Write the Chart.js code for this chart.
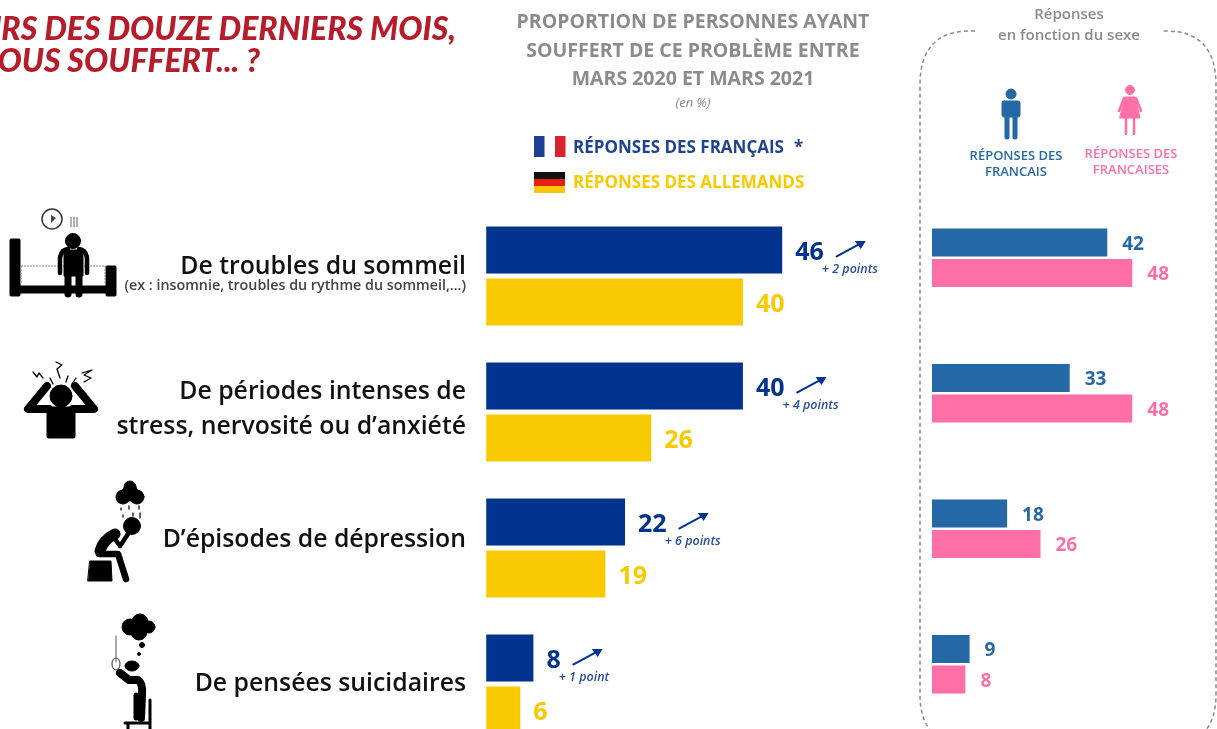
<!DOCTYPE html>
<html lang="fr">
<head>
<meta charset="utf-8">
<title>Proportion de personnes ayant souffert</title>
<script src="https://cdn.jsdelivr.net/npm/chart.js@4"></script>
<style>
  html, body { margin: 0; padding: 0; background: #fff; overflow: hidden; width: 1217px; height: 729px; }
  #page { position: relative; width: 1217px; height: 729px; overflow: hidden; font-family: "Open Sans", sans-serif; filter: blur(0.55px); }
  #page div { position: absolute; white-space: nowrap; }
  canvas { position: absolute; }
  .right { text-align: right; }
  .center { text-align: center; transform: translateX(-50%); }
  .red { color: #b71c2b; font: italic 900 32px/32px Lato, sans-serif; }
  .title { color: #8b8b8b; font-weight: 700; font-size: 19.5px; line-height: 28.5px; }
  .cat { color: #111; font-weight: 600; font-size: 24.8px; line-height: 35px; right: 751px; text-align: right; }
  .legend { font-weight: 700; font-size: 17px; line-height: 20px; }
  .sex { font-weight: 600; font-size: 13px; line-height: 16px; }
</style>
</head>
<body>
<div id="page">
  <div class="red" style="right:761px;top:12px">AU COURS DES DOUZE DERNIERS MOIS,</div>
  <div class="red" style="right:957px;top:44px">AVEZ-VOUS SOUFFERT... ?</div>

  <div class="title center" style="left:693px;top:7px">PROPORTION DE PERSONNES AYANT<br>SOUFFERT DE CE PROBLÈME ENTRE<br>MARS 2020 ET MARS 2021</div>
  <div class="center" style="left:693px;top:93px;color:#8b8b8b;font-style:italic;font-size:13px">(en %)</div>

  <div class="legend" style="left:573px;top:137px;color:#1f4390">RÉPONSES DES FRANÇAIS</div>
  <div class="legend" style="left:794px;top:137px;color:#1f4390">*</div>
  <div class="legend" style="left:573px;top:172px;color:#f9c900">RÉPONSES DES ALLEMANDS</div>

  <div class="center" style="left:1069px;top:3px;color:#8b8b8b;font-weight:600;font-size:15px;line-height:21px">Réponses<br>en fonction du sexe</div>
  <div class="sex center" style="left:1016px;top:147px;color:#2469a6">RÉPONSES DES<br>FRANCAIS</div>
  <div class="sex center" style="left:1131px;top:145px;color:#fe6fa8">RÉPONSES DES<br>FRANCAISES</div>

  <div class="cat" style="top:247px">De troubles du sommeil</div>
  <div class="right" style="right:751px;top:276px;color:#444;font-weight:600;font-size:14.3px;line-height:17px">(ex : insomnie, troubles du rythme du sommeil,…)</div>
  <div class="cat" style="top:372px">De périodes intenses de<br>stress, nervosité ou d’anxiété</div>
  <div class="cat" style="top:520px">D’épisodes de dépression</div>
  <div class="cat" style="top:664px">De pensées suicidaires</div>

  <svg width="1217" height="729" style="position:absolute;left:0;top:0">
    <!-- cadre pointille -->
    <path d="M975 31 H970 Q920 31 920 85 V695 Q920 745 970 745 H1166 Q1216 745 1216 695 V85 Q1216 31 1166 31 H1163" fill="none" stroke="#8a8a8a" stroke-width="1.5" stroke-dasharray="4 3"/>
    <!-- drapeaux -->
    <rect x="534" y="136" width="10.5" height="21" fill="#1f3f94"/><rect x="555" y="136" width="10.5" height="21" fill="#d8232f"/>
    <rect x="534" y="172" width="31" height="7" fill="#111"/><rect x="534" y="179" width="31" height="7" fill="#e8210f"/><rect x="534" y="186" width="31" height="7" fill="#fbc60b"/>
    <!-- homme / femme -->
    <g fill="#2469a6" stroke="#2469a6" stroke-linecap="round">
      <circle cx="1011" cy="94" r="5"/><rect x="1002" y="101" width="18" height="16" rx="2"/>
      <path d="M1007 116 V137 M1015 116 V137" stroke-width="5" fill="none"/>
    </g>
    <g fill="#fe6fa8" stroke="#fe6fa8" stroke-linecap="round">
      <circle cx="1130" cy="90" r="4.5"/><path d="M1125 97 H1135 L1140 118 H1120 Z"/>
      <path d="M1124 98 L1119 111 M1136 98 L1141 111 M1126 118 V134 M1134 118 V134" stroke-width="2.5" fill="none"/>
    </g>
    <!-- sommeil -->
    <g fill="#000" stroke="#000">
      <rect x="10" y="239" width="10" height="57" rx="1"/><rect x="106" y="266" width="10" height="30" rx="1"/><rect x="20" y="286" width="86" height="7"/>
      <path d="M21 266 H106 M21 266 V284 M105 266 V284" stroke="#888" stroke-dasharray="2 1" fill="none"/>
      <circle cx="73" cy="241" r="7.5"/>
      <path d="M64 250 H83 V276 H64 Z"/>
      <path d="M60 273 V258 Q61 250 68 249 M87 273 V258 Q86 250 79 249" fill="none" stroke-width="4.5" stroke-linecap="round"/>
      <path d="M68 274 V294 M79 274 V294" fill="none" stroke-width="7" stroke-linecap="round"/>
      <circle cx="52" cy="219" r="10" fill="none" stroke-width="1.5" stroke="#333"/><path d="M51 215 V223 L56 218 Z" stroke="none" fill="#444"/>
      <path d="M71 217 V227 M74 217 V227 M77 217 V227" stroke="#999" stroke-width="1.5" fill="none"/>
    </g>
    <!-- stress -->
    <g fill="#000" stroke="#000" stroke-linecap="round" stroke-linejoin="round">
      <circle cx="61" cy="396" r="11"/>
      <path d="M47 386 L28 409 H49 M75 386 L94 409 H73" fill="none" stroke-width="8"/>
      <path d="M49 409 H73 V436 H49 Z" stroke-width="5"/>
      <path d="M33 372 L37 377 L39 373 L43 378 M56 362 L62 365 L57 369 L60 378 M82 373 L92 370 L84 375 L91 378 L84 382 M50 378 L53 384 M66 382 L68 376 M72 384 L76 378" fill="none" stroke-width="1.3"/>
    </g>
    <!-- depression -->
    <g fill="#000" stroke="#000" stroke-linecap="round" stroke-linejoin="round">
      <circle cx="130" cy="493" r="8"/><circle cx="123" cy="497" r="7"/><circle cx="137" cy="497" r="7"/><circle cx="130" cy="487" r="6"/>
      <path d="M121 508 V510 M129 506 V509 M139 506 V509 M123 515 V517 M133 513 V516 M140 513 V518" fill="none" stroke="#333" stroke-width="1.5"/>
      <circle cx="132" cy="526" r="8.5"/>
      <path d="M115 534 Q103 540 100 551" fill="none" stroke-width="11"/>
      <path d="M99 554 H118 L126 579" fill="none" stroke-width="6.5"/>
      <path d="M112 535 L120 546 L128 534" fill="none" stroke-width="4.5"/>
      <path d="M90 561 H111 L112 581 H88 Z"/>
    </g>
    <!-- suicide -->
    <g fill="#000" stroke="#000" stroke-linecap="round" stroke-linejoin="round">
      <circle cx="130" cy="627" r="8"/><circle cx="140" cy="622" r="8"/><circle cx="149" cy="627" r="6"/><circle cx="139" cy="632" r="8"/>
      <circle cx="142" cy="645" r="2.5"/><circle cx="139" cy="654" r="1.5"/>
      <path d="M116 636 V662" fill="none" stroke="#555" stroke-width="1"/><ellipse cx="116" cy="664" rx="4" ry="6" fill="none" stroke="#555" stroke-width="1.2"/>
      <ellipse cx="132" cy="666" rx="7" ry="5"/>
      <path d="M120 673 L129 680 H138 Q143 683 142 695 L141 718" fill="none" stroke-width="8"/>
      <path d="M136 695 L136 718" fill="none" stroke-width="5"/>
      <path d="M150 700 V729 M125 723 H150 M128 723 V729" fill="none" stroke-width="3"/>
    </g>
  </svg>

  <canvas id="mainChart" width="440" height="544" style="left:481px;top:208px"></canvas>
  <canvas id="sexChart" width="280" height="542" style="left:932px;top:190px"></canvas>
</div>

<script>
var categories = ['Sommeil', 'Stress', 'Dépression', 'Pensées suicidaires'];
var frenchValues = [46, 40, 22, 8];
var germanValues = [40, 26, 19, 6];
var menValues = [42, 33, 18, 9];
var womenValues = [48, 48, 26, 8];
var deltaLabels = ['+ 2 points', '+ 4 points', '+ 6 points', '+ 1 point'];

var NAVY = '#00338d';
var YELLOW = '#f9c900';
var BLUE = '#2469a6';
var PINK = '#fe6fa8';
var FONT = '"Open Sans", sans-serif';

// chiffres au bout des barres
function valueLabels(fontSize, gap, dy) {
  return {
    id: 'valueLabels',
    afterDatasetsDraw: function (chart) {
      var ctx = chart.ctx;
      ctx.save();
      ctx.textBaseline = 'middle';
      ctx.textAlign = 'left';
      ctx.font = '700 ' + fontSize + 'px ' + FONT;
      chart.data.datasets.forEach(function (ds, i) {
        chart.getDatasetMeta(i).data.forEach(function (bar, j) {
          ctx.fillStyle = ds.backgroundColor;
          ctx.fillText(ds.data[j], bar.x + gap, bar.y + dy);
        });
      });
      ctx.restore();
    }
  };
}

// fleche + evolution, seulement pour les Francais
var deltaPlugin = {
  id: 'deltaPlugin',
  afterDatasetsDraw: function (chart) {
    var ctx = chart.ctx;
    ctx.save();
    chart.getDatasetMeta(0).data.forEach(function (bar, j) {
      // la fleche suit la largeur du chiffre
      ctx.font = '700 25px ' + FONT;
      var start = bar.x + 13 + ctx.measureText(frenchValues[j]).width + 12;
      var x1 = start, y1 = bar.y + 7;
      var x2 = start + 30, y2 = bar.y - 9;
      ctx.strokeStyle = NAVY;
      ctx.fillStyle = NAVY;
      ctx.lineWidth = 2;
      ctx.beginPath();
      ctx.moveTo(x1, y1);
      ctx.lineTo(x2 - 6, y2 + 3);
      ctx.stroke();
      ctx.beginPath();
      ctx.moveTo(x2, y2);
      ctx.lineTo(x2 - 11, y2);
      ctx.lineTo(x2 - 5, y2 + 8);
      ctx.closePath();
      ctx.fill();
      ctx.fillStyle = '#2a4f9a';
      ctx.font = 'italic 600 12.5px ' + FONT;
      ctx.textAlign = 'left';
      ctx.textBaseline = 'middle';
      ctx.fillText(deltaLabels[j], start - 14, bar.y + 19);
    });
    ctx.restore();
  }
};

function barChart(id, datasets, xMax, catPct, barPct, plugins) {
  return new Chart(document.getElementById(id), {
    type: 'bar',
    data: { labels: categories, datasets: datasets },
    plugins: plugins,
    options: {
      indexAxis: 'y',
      responsive: false,
      animation: false,
      categoryPercentage: catPct,
      barPercentage: barPct,
      layout: { padding: 0 },
      plugins: { legend: { display: false }, tooltip: { enabled: false }, title: { display: false } },
      scales: {
        x: { display: false, min: 0, max: xMax },
        y: { display: false }
      }
    }
  });
}

// dans l'original les barres ne partent pas tout a fait du zero, d'ou base
barChart('mainChart', [
  { label: 'Réponses des Français', data: frenchValues, backgroundColor: NAVY, base: 0.8 },
  { label: 'Réponses des Allemands', data: germanValues, backgroundColor: YELLOW, base: 0.8 }
], 67.2, 0.765, 0.904, [valueLabels(25, 13, 3), deltaPlugin]);

barChart('sexChart', [
  { label: 'Réponses des Français', data: menValues, backgroundColor: BLUE },
  { label: 'Réponses des Françaises', data: womenValues, backgroundColor: PINK }
], 67.1, 0.45, 0.92, [valueLabels(19, 15, 2)]);
</script>
</body>
</html>
